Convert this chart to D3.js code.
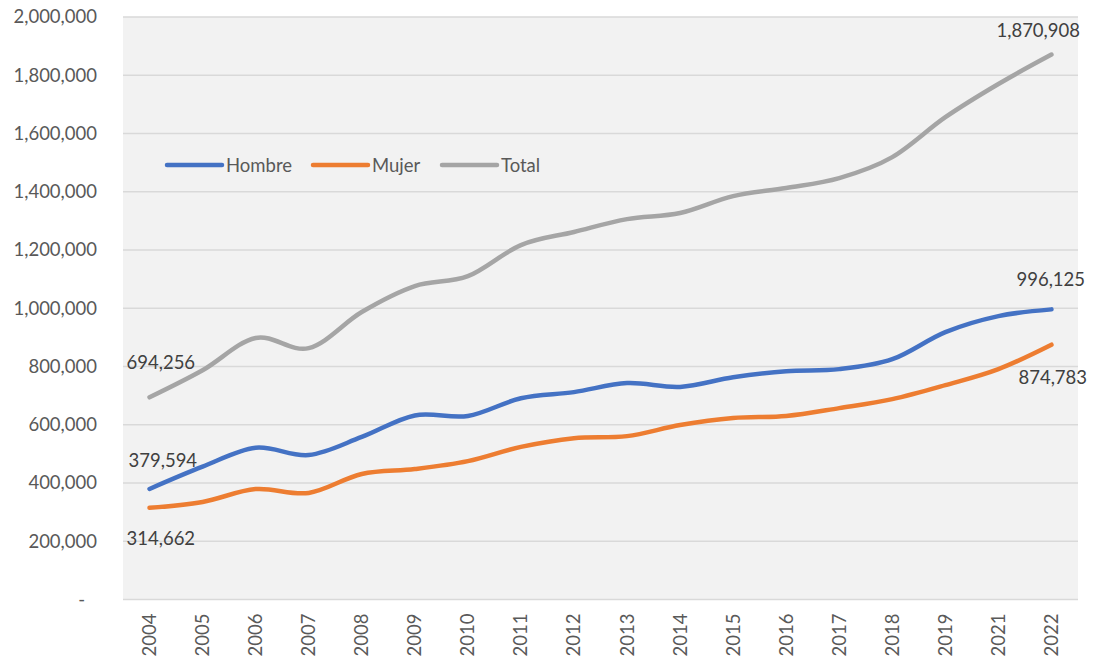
<!DOCTYPE html>
<html>
<head>
<meta charset="utf-8">
<script src="https://cdn.jsdelivr.net/npm/d3@7"></script>
<style>
  html, body { margin: 0; padding: 0; background: #ffffff; }
  svg { display: block; font-family: Lato, "Open Sans", sans-serif; }
</style>
</head>
<body>
<svg id="chart" width="1094" height="657"></svg>
<script>
const years = ["2004","2005","2006","2007","2008","2009","2010","2011","2012","2013","2014","2015","2016","2017","2018","2019","2021","2022"];
const hombre = [379594, 456000, 521000, 496000, 558000, 632000, 630000, 691000, 712000, 743000, 730000, 763000, 784000, 791000, 825000, 918000, 973000, 996125];
const mujer  = [314662, 335000, 379000, 366000, 431000, 448000, 475000, 524000, 554000, 561000, 599000, 623000, 630000, 657000, 688000, 736000, 791000, 874783];
const total  = [694256, 787000, 898000, 863000, 987000, 1076000, 1110000, 1217000, 1262000, 1306000, 1327000, 1385000, 1413000, 1447000, 1519000, 1656000, 1770000, 1870908];
const yTicks = [0, 200000, 400000, 600000, 800000, 1000000, 1200000, 1400000, 1600000, 1800000, 2000000];
const seriesNames = ["Hombre", "Mujer", "Total"];
const seriesColors = ["#4472C4", "#ED7D31", "#A5A5A5"];

(function () {
const svg = d3.select("#chart");
const pLeft = 123, pRight = 1078, pTop = 17, pBottom = 599.5;

const x = d3.scaleBand().domain(years).range([pLeft, pRight]).padding(0);
const y = d3.scaleLinear().domain([0, 2000000]).range([pBottom, pTop]);
const fmt = d3.format(",");

svg.append("rect").attr("x", pLeft).attr("y", pTop).attr("width", pRight - pLeft).attr("height", pBottom - pTop).attr("fill", "#F2F2F2");

svg.append("g").selectAll("line").data(yTicks).join("line")
  .attr("x1", pLeft).attr("x2", pRight)
  .attr("y1", d => y(d)).attr("y2", d => y(d))
  .attr("stroke", "#D9D9D9").attr("stroke-width", 1.5);

const yAxis = d3.axisLeft(y).tickValues(yTicks).tickSize(0).tickPadding(26)
  .tickFormat(d => d === 0 ? "-" : fmt(d));
const gy = svg.append("g").attr("transform", `translate(${pLeft},0)`).call(yAxis);
gy.select(".domain").remove();
gy.selectAll("text").attr("font-size", 18.5).attr("fill", "#595959").attr("font-family", "Lato, sans-serif");
gy.selectAll(".tick").filter(d => d === 0).select("text").attr("dx", -12);

const xAxis = d3.axisBottom(x).tickSize(0).tickPadding(0);
const gx = svg.append("g").attr("transform", `translate(0,${pBottom})`).call(xAxis);
gx.select(".domain").remove();
gx.selectAll("text")
  .attr("font-size", 18.5).attr("fill", "#595959").attr("font-family", "Lato, sans-serif")
  .attr("text-anchor", "end")
  .attr("transform", "rotate(-90)")
  .attr("x", -14).attr("y", 0).attr("dy", "0.35em");

const seriesData = [hombre, mujer, total];
const line = d3.line()
  .x((d, i) => x(years[i]) + x.bandwidth() / 2)
  .y(d => y(d))
  .curve(d3.curveCardinal.tension(0));
svg.append("g").selectAll("path").data(seriesData).join("path")
  .attr("d", d => line(d))
  .attr("fill", "none")
  .attr("stroke", (d, i) => seriesColors[i])
  .attr("stroke-width", 4.5)
  .attr("stroke-linecap", "round")
  .attr("stroke-linejoin", "round");

const cx = i => x(years[i]) + x.bandwidth() / 2;
const last = years.length - 1;
const labels = [
  { v: total[0], i: 0, dx: -23, dy: -28 },
  { v: hombre[0], i: 0, dx: -21, dy: -22 },
  { v: mujer[0], i: 0, dx: -23, dy: 37 },
  { v: total[last], i: last, dx: -55, dy: -18 },
  { v: hombre[last], i: last, dx: -35, dy: -23 },
  { v: mujer[last], i: last, dx: -33, dy: 39 }
];
svg.append("g").selectAll("text").data(labels).join("text")
  .attr("x", d => cx(d.i) + d.dx)
  .attr("y", d => y(d.v) + d.dy)
  .attr("font-size", 18.5).attr("fill", "#404040")
  .text(d => fmt(d.v));

const legendX = [167, 313, 442];
const lg = svg.append("g").selectAll("g").data(seriesNames).join("g")
  .attr("transform", (d, i) => `translate(${legendX[i]},165)`);
lg.append("line").attr("x1", 0).attr("x2", 55).attr("y1", 0).attr("y2", 0)
  .attr("stroke", (d, i) => seriesColors[i]).attr("stroke-width", 4.5).attr("stroke-linecap", "round");
lg.append("text").attr("x", 59).attr("y", 0).attr("dy", "0.36em")
  .attr("font-size", 18.5).attr("fill", "#595959").text(d => d);
})();
</script>
</body>
</html>
